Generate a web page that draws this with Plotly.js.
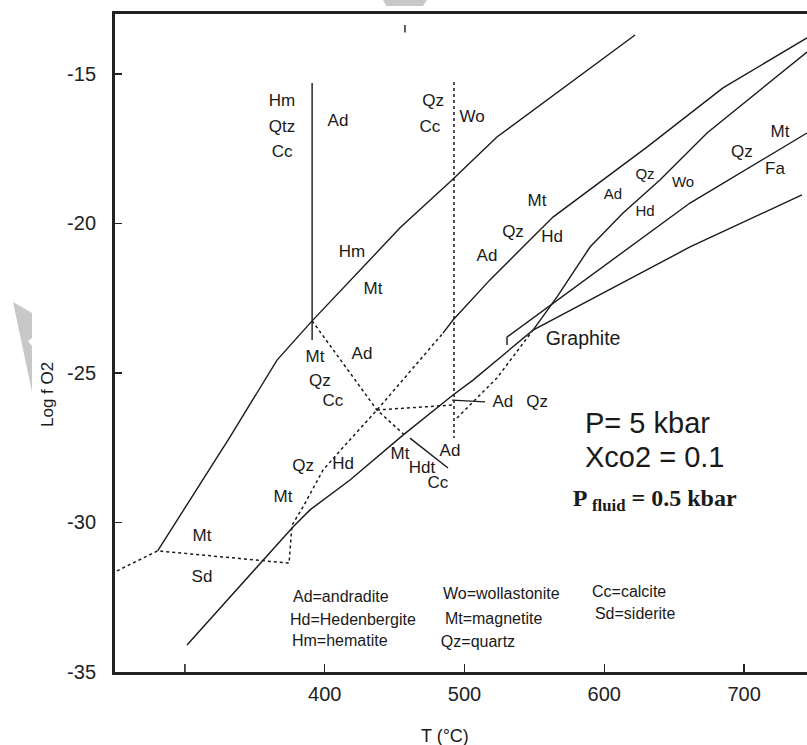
<!DOCTYPE html>
<html><head><meta charset="utf-8">
<script src="https://cdn.plot.ly/plotly-3.0.1.min.js"></script>
<style>html,body{margin:0;padding:0;background:#fff}</style>
</head><body><div id="chart" style="width:807px;height:745px"></div>
<script>
// ---------- axis ticks ----------
const tickT = [400, 500, 600, 700];
const tickTText = ['400', '500', '600', '700'];
const tickLog = [-35, -30, -25, -20, -15];
const tickLogText = ['-35', '-30', '-25', '-20', '-15'];
// unlabeled tick at 300 °C
const tick300T = [300, 300];
const tick300Log = [-35, -34.73];

// ---------- solid boundaries (T in °C, log fO2) ----------
const hmMtT   = [280.5, 332.3, 365.9, 391.0, 453.9, 491.1, 523.2, 568.3, 622.0];
const hmMtLog = [-30.95, -27.14, -24.57, -23.26, -20.15, -18.55, -17.11, -15.54, -13.70];

const hmAdT   = [391.0, 391.0];
const hmAdLog = [-15.31, -23.90];

const mtQzHdT   = [301.5, 355.9, 377.3, 389.5, 418.1, 456.0, 491.8, 506.1, 530.4, 549.0, 661.3, 741.4];
const mtQzHdLog = [-34.10, -31.26, -30.15, -29.58, -28.58, -27.08, -25.74, -25.24, -24.30, -23.57, -20.79, -19.05];

const adMtT   = [484.6, 491.8, 518.2, 563.3, 630.5, 684.9, 745.0];
const adMtLog = [-23.67, -23.23, -21.89, -19.79, -17.45, -15.47, -13.80];

const adWoT   = [549.0, 566.2, 589.8, 613.4, 639.8, 673.5, 745.0];
const adWoLog = [-23.57, -22.46, -20.79, -19.65, -18.55, -16.98, -14.27];

const qzFaT   = [530.4, 530.4, 661.3, 745.0];
const qzFaLog = [-24.07, -23.80, -19.32, -16.98];

const mtHdtCcT   = [461.0, 488.2];
const mtHdtCcLog = [-27.18, -28.18];

const adQzT   = [491.1, 514.7];
const adQzLog = [-25.91, -25.97];

const topMarkT   = [457.4, 457.4];
const topMarkLog = [-13.37, -13.62];

// ---------- dashed boundaries ----------
const mtSdT   = [251.4, 280.5, 374.5, 376.6, 384.5, 398.8, 416.0, 437.4, 484.6];
const mtSdLog = [-31.62, -30.95, -31.36, -30.09, -29.48, -28.25, -27.34, -26.24, -23.67];

const ccAdT   = [391.0, 437.4, 456.5];
const ccAdLog = [-23.26, -26.24, -27.05];

const woVertT   = [492.5, 492.5];
const woVertLog = [-15.27, -27.18];

const horizT   = [437.4, 492.5];
const horizLog = [-26.24, -26.07];

const adWoDashT   = [494.6, 523.2, 549.0];
const adWoDashLog = [-26.51, -25.17, -23.57];

// ---------- phase labels ----------
const phaseText = ['Hm', 'Qtz', 'Cc', 'Ad', 'Hm', 'Mt', 'Mt', 'Qz', 'Cc', 'Ad',
  'Qz', 'Hd', 'Mt', 'Mt', 'Sd', 'Mt', 'Hdt', 'Cc', 'Ad', 'Ad', 'Qz',
  'Qz', 'Cc', 'Wo', 'Mt', 'Qz', 'Hd', 'Ad', 'Mt', 'Qz', 'Fa'];
const phaseT = [369.5, 369.5, 369.5, 409.5, 419.5, 434.5, 393.1, 396.6, 405.9, 426.7,
  384.5, 413.1, 370.2, 312.2, 312.2, 453.9, 469.6, 481.0, 489.6, 527.5, 551.9,
  477.5, 475.3, 505.4, 551.9, 534.7, 562.6, 516.1, 725.7, 698.5, 722.1];
const phaseLog = [-15.94, -16.81, -17.65, -16.61, -20.99, -22.23, -24.50, -25.30, -25.97, -24.40,
  -28.15, -28.08, -29.18, -30.49, -31.86, -27.74, -28.20, -28.72, -27.64, -26.01, -26.01,
  -15.94, -16.81, -16.48, -19.29, -20.32, -20.49, -21.12, -16.98, -17.65, -18.22];

const graphiteText = ['Graphite'];
const graphiteT = [584.8];
const graphiteLog = [-23.90];

const smallPhaseText = ['Ad', 'Qz', 'Wo', 'Hd'];
const smallPhaseT    = [606.2, 629.1, 656.3, 629.1];
const smallPhaseLog  = [-19.05, -18.38, -18.65, -19.62];

// ---------- abbreviation key ----------
const keyText = ['Ad=andradite', 'Hd=Hedenbergite', 'Hm=hematite',
  'Wo=wollastonite', 'Mt=magnetite', 'Qz=quartz', 'Cc=calcite', 'Sd=siderite'];
const keyT   = [377.3, 375.2, 376.6, 484.6, 486.0, 483.1, 591.2, 593.3];
const keyLog = [-32.53, -33.29, -34.00, -32.43, -33.26, -34.03, -32.36, -33.09];

// ---------- condition text ----------
const condText = ['P= 5 kbar', 'Xco2 = 0.1'];
const condT    = [586.2, 586.2];
const condLog  = [-26.78, -27.91];
const fluidText = ['<b>P <sub>fluid</sub> = 0.5 kbar</b>'];
const fluidT = [636.0];
const fluidLog = [-29.25];

// ---------- build ----------
const INK = '#1a1a1a';
const SANS = 'Liberation Sans, Arial, Helvetica, sans-serif';
function solid(x, y, w) { return {x: x, y: y, type: 'scatter', mode: 'lines', line: {color: INK, width: w || 1.4}, hoverinfo: 'skip'}; }
function dashed(x, y) { return {x: x, y: y, type: 'scatter', mode: 'lines', line: {color: INK, width: 1.5, dash: '3px,3px'}, hoverinfo: 'skip'}; }
function label(x, y, t, size, pos, fam) {
  return {x: x, y: y, text: t, type: 'scatter', mode: 'text', textposition: pos || 'middle center',
    textfont: {family: fam || SANS, size: size, color: INK}, hoverinfo: 'skip', cliponaxis: false};
}

const traces = [
  solid(hmMtT, hmMtLog), solid(hmAdT, hmAdLog), solid(mtQzHdT, mtQzHdLog),
  solid(adMtT, adMtLog), solid(adWoT, adWoLog), solid(qzFaT, qzFaLog),
  solid(mtHdtCcT, mtHdtCcLog), solid(adQzT, adQzLog), solid(topMarkT, topMarkLog),
  solid(tick300T, tick300Log, 1.5),
  dashed(mtSdT, mtSdLog), dashed(ccAdT, ccAdLog), dashed(woVertT, woVertLog),
  dashed(horizT, horizLog), dashed(adWoDashT, adWoDashLog),
  label(phaseT, phaseLog, phaseText, 17),
  label(graphiteT, graphiteLog, graphiteText, 19.5),
  label(smallPhaseT, smallPhaseLog, smallPhaseText, 15),
  label(keyT, keyLog, keyText, 16, 'middle right'),
  label(condT, condLog, condText, 29, 'middle right'),
  label(fluidT, fluidLog, fluidText, 24, 'middle center', 'Liberation Serif, Times New Roman, serif')
];

const layout = {
  width: 807, height: 745,
  margin: {l: 115, r: 0, t: 14, b: 73, pad: 0},
  paper_bgcolor: '#fff', plot_bgcolor: '#fff',
  showlegend: false,
  xaxis: {range: [250, 745], showgrid: false, zeroline: false, showline: true, mirror: true,
    linewidth: 3, linecolor: '#222', ticks: 'inside', ticklen: 8, tickwidth: 1.5, tickcolor: '#222',
    tickvals: tickT, ticktext: tickTText, ticklabelstandoff: 2,
    tickfont: {family: SANS, size: 20, color: '#222'}},
  yaxis: {range: [-35, -13], showgrid: false, zeroline: false, showline: true, mirror: false,
    linewidth: 3, linecolor: '#222', ticks: 'inside', ticklen: 7, tickwidth: 1.5, tickcolor: '#222',
    tickvals: tickLog, ticktext: tickLogText, ticklabelstandoff: 12,
    tickfont: {family: SANS, size: 20, color: '#222'}},
  annotations: [
    {text: 'Log f O2', xref: 'paper', yref: 'paper', x: -0.0968, y: 0.421, showarrow: false,
     textangle: -90, xanchor: 'center', yanchor: 'middle', font: {family: SANS, size: 17, color: INK}},
    {text: 'T (°C)', xref: 'paper', yref: 'paper', x: 0.4769, y: -0.0973, showarrow: false,
     xanchor: 'center', yanchor: 'middle', font: {family: SANS, size: 18, color: INK}}
  ],
  shapes: [
    {type: 'path', xref: 'paper', yref: 'paper', layer: 'below',
     path: 'M -0.1474 0.5623 L -0.1199 0.5456 L -0.1199 0.5076 L -0.1257 0.5030 L -0.1199 0.4954 L -0.1199 0.4255 Z',
     fillcolor: '#c8c8c8', line: {width: 0}},
    {type: 'path', xref: 'paper', yref: 'paper', layer: 'below',
     path: 'M 0.3873 1.0213 L 0.4509 1.0213 L 0.445 1.0122 L 0.392 1.0122 Z',
     fillcolor: '#c8c8c8', line: {width: 0}}
  ]
};

Plotly.newPlot('chart', traces, layout, {staticPlot: true, displayModeBar: false});
</script></body></html>
